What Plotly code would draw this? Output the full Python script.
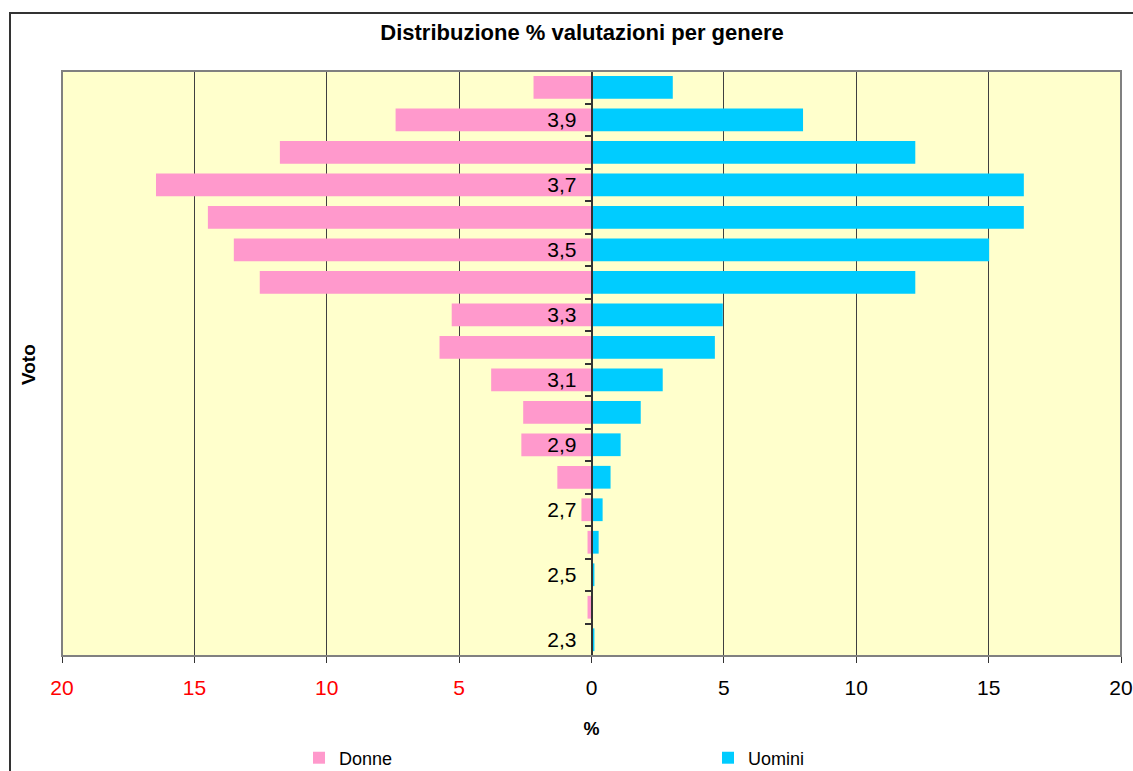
import plotly.graph_objects as go

# ---- data ----
voti = [2.3, 2.4, 2.5, 2.6, 2.7, 2.8, 2.9, 3.0, 3.1, 3.2, 3.3, 3.4, 3.5, 3.6, 3.7, 3.8, 3.9, 4.0]
donne = [0.0, 0.15, 0.0, 0.15, 0.38, 1.29, 2.65, 2.58, 3.79, 5.74, 5.28, 12.53, 13.51, 14.49, 16.45, 11.77, 7.40, 2.19]
uomini = [0.11, 0.0, 0.11, 0.27, 0.42, 0.72, 1.10, 1.86, 2.69, 4.66, 4.96, 12.23, 15.02, 16.33, 16.33, 12.23, 7.99, 3.07]

y_tickvals = [2.3, 2.5, 2.7, 2.9, 3.1, 3.3, 3.5, 3.7, 3.9]
y_ticktext = ["2,3", "2,5", "2,7", "2,9", "3,1", "3,3", "3,5", "3,7", "3,9"]
x_tickvals = [-20, -15, -10, -5, 0, 5, 10, 15, 20]
x_ticktext = ["20", "15", "10", "5", "0", "5", "10", "15", "20"]

FONT = "Liberation Sans, Arial, sans-serif"
PINK = "#FF99CC"
CYAN = "#00CCFF"

x_ticklabels = [
    (f"<span style='color:#FF0000'>{t}</span>" if v < 0 else t)
    for v, t in zip(x_tickvals, x_ticktext)
]
boundaries = [round(voti[0] - 0.05 + 0.1 * k, 2) for k in range(len(voti) + 1)]

fig = go.Figure()
fig.add_trace(go.Bar(
    y=voti, x=[-v for v in donne], customdata=donne, orientation="h",
    name="Donne", marker=dict(color=PINK, line=dict(width=0)), width=0.07,
    hovertemplate="Voto %{y}<br>Donne: %{customdata}%<extra></extra>",
))
fig.add_trace(go.Bar(
    y=voti, x=uomini, orientation="h",
    name="Uomini", marker=dict(color=CYAN, line=dict(width=0)), width=0.07,
    hovertemplate="Voto %{y}<br>Uomini: %{x}%<extra></extra>",
))

W, H = 1133, 771
fig.update_layout(
    width=W, height=H,
    margin=dict(l=62, r=12, t=71, b=115, pad=0, autoexpand=False),
    paper_bgcolor="white",
    plot_bgcolor="#FFFFCC",
    barmode="overlay",
    font=dict(family=FONT, color="black", size=18),
    title=dict(
        text="<b>Distribuzione % valutazioni per genere</b>",
        x=582 / W, xref="container", xanchor="center",
        y=1 - 32 / H, yref="container", yanchor="middle",
        font=dict(family=FONT, size=22, color="black"),
    ),
    xaxis=dict(
        range=[-20, 20], tickmode="array", tickvals=x_tickvals, ticktext=x_ticklabels,
        ticks="outside", ticklen=6, tickcolor="#333333", tickwidth=1,
        showgrid=True, gridcolor="#404040", gridwidth=1,
        zeroline=False, showline=False, automargin=False,
        tickfont=dict(family=FONT, size=21, color="black"),
        ticklabelstandoff=7,
        title=dict(text="<b>%</b>", font=dict(family=FONT, size=18), standoff=26),
        fixedrange=True,
    ),
    yaxis=dict(
        range=[2.25, 4.05], tickmode="array", tickvals=y_tickvals, ticktext=y_ticktext,
        anchor="free", position=0.5, side="left",
        ticks="", showgrid=False, zeroline=False, automargin=False,
        showline=True, linecolor="#333333", linewidth=1.5,
        tickfont=dict(family=FONT, size=21, color="black"),
        ticklabelstandoff=10,
        minor=dict(tickmode="array", tickvals=boundaries, ticks="outside",
                   ticklen=6, tickcolor="#333333", tickwidth=1.5, showgrid=False),
        fixedrange=True,
    ),
    legend=dict(
        orientation="h", xref="container", yref="container",
        x=299 / W, xanchor="left",
        y=1 - 758 / H, yanchor="middle",
        entrywidth=364, entrywidthmode="pixels",
        font=dict(family=FONT, size=18, color="black"),
        bgcolor="rgba(0,0,0,0)", itemclick=False, itemdoubleclick=False,
    ),
    showlegend=True,
    shapes=[
        # plot-area border
        dict(type="rect", xref="paper", yref="paper", x0=0, x1=1, y0=0, y1=1,
             line=dict(color="#808080", width=2), fillcolor="rgba(0,0,0,0)", layer="above"),
        # chart-area border (extends past the page on right/bottom)
        dict(type="rect", xref="paper", yref="paper",
             x0=(10 - 62) / 1059, x1=1.06, y0=-0.3, y1=(656 - 13) / 585,
             line=dict(color="#333333", width=2), fillcolor="rgba(0,0,0,0)", layer="above"),
    ],
    annotations=[
        dict(text="<b>Voto</b>", xref="paper", yref="paper",
             x=(28 - 62) / 1059, y=0.5 - 1.5 / 585, xanchor="center", yanchor="middle",
             textangle=-90, showarrow=False, font=dict(family=FONT, size=19, color="black")),
    ],
)

fig.write_html("out.html", config={"displayModeBar": False},
               post_script="document.body.style.margin='0';")
